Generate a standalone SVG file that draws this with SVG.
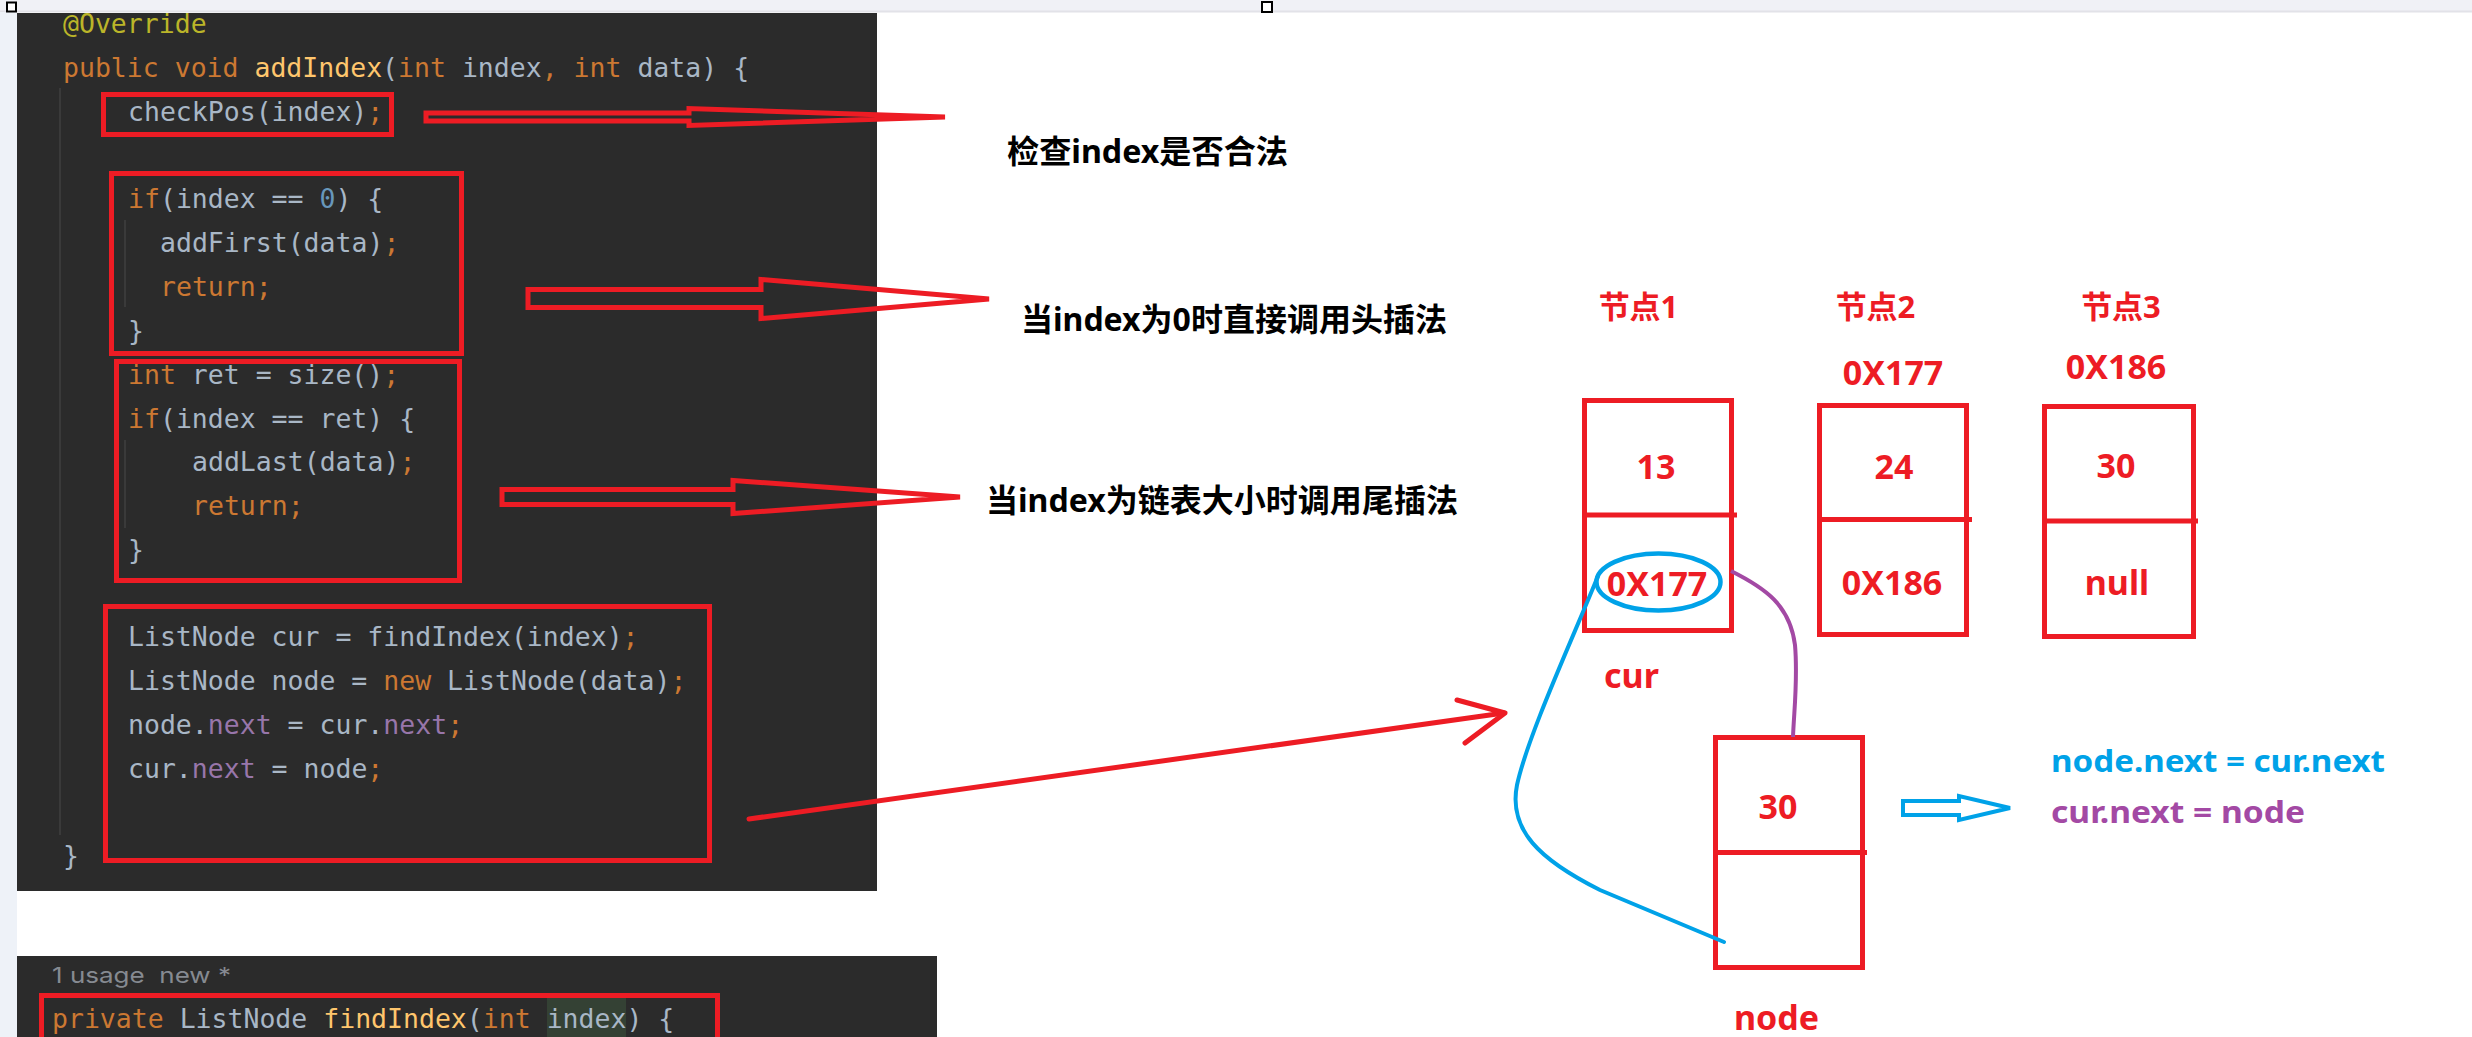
<svg xmlns="http://www.w3.org/2000/svg" width="2472" height="1037" viewBox="0 0 2472 1037">
<style>
.code{font-family:"DejaVu Sans Mono","Liberation Mono",monospace;font-size:26.5px;fill:#a9b7c6;white-space:pre}
.k{fill:#cc7832}
.f{fill:#ffc66d}
.n{fill:#6897bb}
.a{fill:#bbb529}
.p{fill:#9876aa}
.hint{font-family:Inter,"Noto Sans",sans-serif;font-size:22px;fill:#868a91;white-space:pre}
.guide{stroke:#3a3a3a;stroke-width:2}
.box{fill:none;stroke:#ed1c24;stroke-width:5}
.harrow{fill:none;stroke:#ed1c24;stroke-width:5;stroke-linejoin:miter}
.note{font-family:"Noto Sans","Noto Sans CJK SC",sans-serif;font-weight:700;font-size:32px;fill:#000}
.lbl{font-family:"Noto Sans","Noto Sans CJK SC",sans-serif;font-weight:700;fill:#ed1c24;text-anchor:middle}
.t31{font-size:31px}
.t34{font-size:34px}
.cell{fill:none;stroke:#ed1c24;stroke-width:5}
.handle{fill:#fff;stroke:#000;stroke-width:2}
</style>
<rect width="2472" height="1037" fill="#fff"/>
<rect x="0" y="0" width="2472" height="12" fill="#f0f1f6"/>
<line x1="0" y1="11.5" x2="2472" y2="11.5" stroke="#e2e2e8" stroke-width="2"/>
<rect x="0" y="12" width="17" height="1025" fill="#eef2f8"/>
<rect class="handle" x="7" y="2.5" width="9" height="9"/>
<rect class="handle" x="1262" y="2" width="10" height="10"/>

<g id="code-panel">
<rect x="17" y="13" width="860" height="878" fill="#2b2b2b"/>
<line class="guide" x1="60" y1="88" x2="60" y2="835"/>
<line class="guide" x1="125" y1="220" x2="125" y2="307"/>
<line class="guide" x1="125" y1="440" x2="125" y2="528"/>
<g class="code" xml:space="preserve">
<text x="63" y="33" class="a">@Override</text>
<text x="63" y="77"><tspan class="k">public void </tspan><tspan class="f">addIndex</tspan>(<tspan class="k">int </tspan>index<tspan class="k">, int </tspan>data) {</text>
<text x="128" y="121">checkPos(index)<tspan class="k">;</tspan></text>
<text x="128" y="208"><tspan class="k">if</tspan>(index == <tspan class="n">0</tspan>) {</text>
<text x="160" y="252">addFirst(data)<tspan class="k">;</tspan></text>
<text x="160" y="296" class="k">return;</text>
<text x="128" y="340">}</text>
<text x="128" y="384"><tspan class="k">int </tspan>ret = size()<tspan class="k">;</tspan></text>
<text x="128" y="428"><tspan class="k">if</tspan>(index == ret) {</text>
<text x="192" y="471">addLast(data)<tspan class="k">;</tspan></text>
<text x="192" y="515" class="k">return;</text>
<text x="128" y="559">}</text>
<text x="128" y="646">ListNode cur = findIndex(index)<tspan class="k">;</tspan></text>
<text x="128" y="690">ListNode node = <tspan class="k">new </tspan>ListNode(data)<tspan class="k">;</tspan></text>
<text x="128" y="734">node.<tspan class="p">next</tspan> = cur.<tspan class="p">next</tspan><tspan class="k">;</tspan></text>
<text x="128" y="778">cur.<tspan class="p">next</tspan> = node<tspan class="k">;</tspan></text>
<text x="63" y="865">}</text>
</g>
<rect class="box" x="103.5" y="94.5" width="288" height="40"/>
<rect class="box" x="111.5" y="173.5" width="350" height="180"/>
<rect class="box" x="116.5" y="361.5" width="343" height="219"/>
<rect class="box" x="105.5" y="606.5" width="604" height="254"/>
</g>

<g id="code-panel-2">
<rect x="17" y="956" width="920" height="81" fill="#2b2b2b"/>
<text class="hint" x="52" y="983" textLength="179" lengthAdjust="spacingAndGlyphs">1 usage  new *</text>
<rect x="547" y="997" width="79" height="40" fill="#344134"/>
<text class="code" x="52" y="1028" xml:space="preserve"><tspan class="k">private </tspan>ListNode <tspan class="f">findIndex</tspan>(<tspan class="k">int </tspan>index) {</text>
<rect class="box" x="41.5" y="995.5" width="676" height="50"/>
</g>

<g id="notes">
<text class="note" x="1007" y="163" textLength="281" lengthAdjust="spacingAndGlyphs">检查index是否合法</text>
<text class="note" x="1021" y="331" textLength="426" lengthAdjust="spacingAndGlyphs">当index为0时直接调用头插法</text>
<text class="note" x="986" y="512" textLength="472" lengthAdjust="spacingAndGlyphs">当index为链表大小时调用尾插法</text>
</g>

<g id="node1">
<text class="lbl t31" x="1638.5" y="318">节点1</text>
<rect class="cell" x="1584.5" y="400.5" width="147" height="230"/>
<line x1="1582" y1="515" x2="1737" y2="515" stroke="#ed1c24" stroke-width="5"/>
<text class="lbl t34" x="1656" y="479">13</text>
<text class="lbl t34" x="1657" y="596">0X177</text>
<ellipse cx="1658.5" cy="582" rx="62" ry="28.5" fill="none" stroke="#00a2e8" stroke-width="4.5"/>
<text class="lbl t34" x="1631.5" y="688">cur</text>
</g>

<g id="node2">
<text class="lbl t31" x="1875.5" y="318">节点2</text>
<text class="lbl t34" x="1893" y="385">0X177</text>
<rect class="cell" x="1819.5" y="405.5" width="147" height="229"/>
<line x1="1817" y1="519.5" x2="1972" y2="519.5" stroke="#ed1c24" stroke-width="5"/>
<text class="lbl t34" x="1894" y="479">24</text>
<text class="lbl t34" x="1892" y="595">0X186</text>
</g>

<g id="node3">
<text class="lbl t31" x="2121" y="318">节点3</text>
<text class="lbl t34" x="2116" y="379">0X186</text>
<rect class="cell" x="2044.5" y="406.5" width="149" height="230"/>
<line x1="2042" y1="521" x2="2198" y2="521" stroke="#ed1c24" stroke-width="5"/>
<text class="lbl t34" x="2116" y="478">30</text>
<text class="lbl t34" x="2117" y="595">null</text>
</g>

<g id="new-node">
<rect class="cell" x="1715.5" y="737.5" width="147" height="230"/>
<line x1="1713" y1="852.5" x2="1867" y2="852.5" stroke="#ed1c24" stroke-width="5"/>
<text class="lbl t34" x="1778" y="819">30</text>
<text class="lbl t34" x="1776.5" y="1030">node</text>
</g>

<g id="result">
<text x="2051" y="772" textLength="334" lengthAdjust="spacingAndGlyphs" style="font-family:'Noto Sans',sans-serif;font-weight:700;font-size:31px;fill:#00a2e8">node.next = cur.next</text>
<text x="2051" y="823" textLength="254" lengthAdjust="spacingAndGlyphs" style="font-family:'Noto Sans',sans-serif;font-weight:700;font-size:31px;fill:#a349a4">cur.next = node</text>
</g>

<g id="connectors">
<polygon class="harrow" points="426,113 689,113 689,108.5 945,117 689,125.5 689,121 426,121"/>
<polygon class="harrow" points="528,289.5 761,289.5 761,279.5 989,299 761,318.5 761,307.5 528,307.5"/>
<polygon class="harrow" points="502,489.5 733,489.5 733,480.5 960,497 733,513.5 733,504.5 502,504.5"/>
<line x1="749" y1="819" x2="1504" y2="713" stroke="#ed1c24" stroke-width="5" stroke-linecap="round"/>
<polyline points="1457,700 1505,713 1465,743" fill="none" stroke="#ed1c24" stroke-width="5" stroke-linecap="round" stroke-linejoin="round"/>
<path d="M1598,576 C1572,640 1528,735 1517,785 C1508,830 1540,860 1600,890 L1724,942" fill="none" stroke="#00a2e8" stroke-width="4" stroke-linecap="round"/>
<path d="M1731,571 C1765,588 1790,605 1795,645 C1798,680 1794,710 1793,737" fill="none" stroke="#a349a4" stroke-width="4"/>
<polygon points="1903,801 1959,801 1959,796 2010,808 1959,820 1959,815 1903,815" fill="none" stroke="#00a2e8" stroke-width="4"/>
</g>
</svg>
